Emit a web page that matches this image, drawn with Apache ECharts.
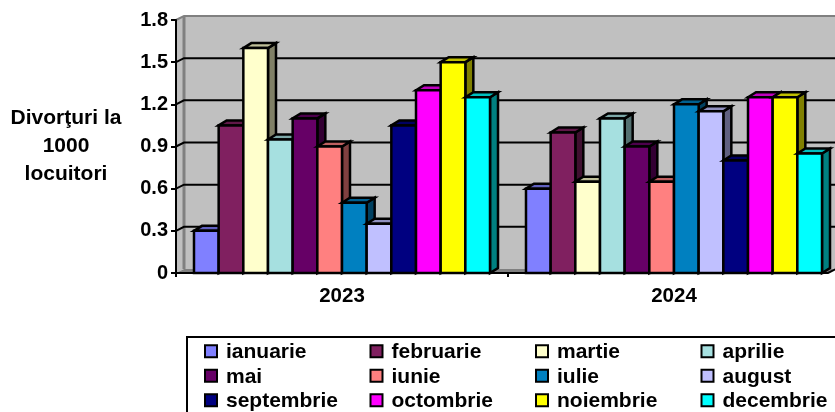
<!DOCTYPE html>
<html>
<head>
<meta charset="utf-8">
<title>Divorturi</title>
<style>
html,body{margin:0;padding:0;background:#fff;overflow:hidden}
#chart{width:835px;height:412px}
</style>
<script src="https://cdn.jsdelivr.net/npm/echarts@6/dist/echarts.min.js"></script>
</head>
<body>
<div id="chart"></div>
<script>
var years = ['2023', '2024'];
var months = ['ianuarie', 'februarie', 'martie', 'aprilie', 'mai', 'iunie', 'iulie', 'august', 'septembrie', 'octombrie', 'noiembrie', 'decembrie'];
var values2023 = [0.3, 1.05, 1.6, 0.95, 1.1, 0.9, 0.5, 0.35, 1.05, 1.3, 1.5, 1.25];
var values2024 = [0.6, 1.0, 0.65, 1.1, 0.9, 0.65, 1.2, 1.15, 0.8, 1.25, 1.25, 0.85];
var colors = ['#8080ff', '#802060', '#ffffcc', '#a6e0e0', '#660066', '#ff8080', '#0080c0', '#c0c0ff', '#000080', '#ff00ff', '#ffff00', '#00ffff'];
var yTicks = [0, 0.3, 0.6, 0.9, 1.2, 1.5, 1.8];

var DX = 8, DY = 4;   // adancimea peretelui
var BX = 8, BY = 5;   // adancimea barelor
var AXIS_CUT = 12;    // axa x se termina inainte de marginea grilei

function shade(hex, k) {
    var n = parseInt(hex.slice(1), 16);
    var r = Math.round((n >> 16 & 255) * k), g = Math.round((n >> 8 & 255) * k), b = Math.round((n & 255) * k);
    return 'rgb(' + r + ',' + g + ',' + b + ')';
}

function poly(points, fill, stroke, lw) {
    return {
        type: 'polygon',
        shape: {points: points},
        style: {fill: fill, stroke: stroke || null, lineWidth: lw || 0, lineJoin: 'miter'}
    };
}

// peretele din spate, podeaua si liniile de grila
function renderWall(params, api) {
    var y = api.coord([0, api.value(0)])[1];
    var cs = params.coordSys;
    var x0 = cs.x, x1 = cs.x + cs.width;
    var xEnd = x1 - AXIS_CUT;
    var items = [];
    if (params.dataIndex === 0) {
        var top = cs.y;
        items.push(poly([[x0, y], [x0 + DX, y - DY], [x0 + DX, top - DY], [x0, top]], '#c0c0c0'));
        items.push(poly([[x0 + DX, y - DY], [x1, y - DY], [x1, top - DY], [x0 + DX, top - DY]], '#c0c0c0'));
        items.push(poly([[x0, y], [x0 + DX, y - DY], [x1, y - DY], [xEnd + DX, y - DY], [xEnd, y]], '#808080'));
        items.push({type: 'polyline', shape: {points: [[x0, top], [x0 + DX, top - DY], [x1, top - DY]]}, style: {fill: null, stroke: '#808080', lineWidth: 2}});
        items.push({type: 'line', shape: {x1: x0 + DX, y1: top - DY, x2: x0 + DX, y2: y - DY}, style: {stroke: '#808080', lineWidth: 3}});
        // axa x, desenata aici ca sa se opreasca la xEnd
        items.push({type: 'polyline', shape: {points: [[x0, y], [xEnd, y], [xEnd + DX, y - DY]]}, style: {fill: null, stroke: '#000', lineWidth: 2}});
    } else if (api.value(0) < 1.8) {
        items.push({type: 'polyline', shape: {points: [[x0, y], [x0 + DX, y - DY], [x1, y - DY]]}, style: {fill: null, stroke: '#000', lineWidth: 2}});
    }
    return {type: 'group', children: items};
}

function barRenderer(idx) {
    return function (params, api) {
        var pt = api.coord([api.value(0), api.value(1)]);
        var base = api.coord([api.value(0), 0]);
        var w = api.size([1, 0])[0] * 0.8916 / months.length;
        var x = pt[0] + (idx - (months.length - 1) / 2) * w - w / 2;
        var y = pt[1], b = base[1], c = colors[idx];
        return {
            type: 'group',
            children: [
                poly([[x + w, y], [x + w + BX, y - BY], [x + w + BX, b - BY], [x + w, b]], shade(c, 0.5), '#000', 2.5),
                poly([[x, y], [x + BX, y - BY], [x + w + BX, y - BY], [x + w, y]], shade(c, 0.75), '#000', 2.5),
                poly([[x, y], [x + w, y], [x + w, b], [x, b]], c, '#000', 2.5)
            ]
        };
    };
}

var seriesList = [{
    type: 'custom',
    name: 'perete',
    silent: true,
    z: 1,
    clip: false,
    renderItem: renderWall,
    encode: {y: 0},
    data: yTicks.map(function (t) { return [t]; })
}];

months.forEach(function (m, i) {
    seriesList.push({
        type: 'custom',
        name: m,
        z: 2,
        clip: false,
        itemStyle: {color: colors[i]},
        renderItem: barRenderer(i),
        encode: {x: 0, y: 1},
        data: [[0, values2023[i]], [1, values2024[i]]]
    });
});

var option = {
    animation: false,
    textStyle: {fontFamily: '"Liberation Sans", Arial, sans-serif'},
    grid: {left: 176, top: 20, width: 664, height: 253, outerBoundsMode: 'none'},
    xAxis: {
        type: 'category',
        data: years,
        boundaryGap: true,
        z: 5,
        axisLine: {show: false},
        axisTick: {show: true, length: 4, lineStyle: {color: '#000', width: 2}},
        axisLabel: {color: '#000', fontWeight: 'bold', fontSize: 20.5, margin: 13}
    },
    yAxis: {
        type: 'value',
        min: 0,
        max: 1.8,
        interval: 0.3,
        z: 5,
        name: 'Divorţuri la\n1000\nlocuitori',
        nameLocation: 'middle',
        nameRotate: 0,
        nameGap: 110,
        nameTextStyle: {color: '#000', fontWeight: 'bold', fontSize: 21, lineHeight: 28, align: 'center', verticalAlign: 'middle', padding: [0, 0, 8, 0]},
        splitLine: {show: false},
        axisLine: {show: true, lineStyle: {color: '#000', width: 2}},
        axisTick: {show: true, length: 5, lineStyle: {color: '#000', width: 2}},
        axisLabel: {
            color: '#000', fontWeight: 'bold', fontSize: 20, margin: 8,
            formatter: function (v) { return v === 0 ? '0' : v.toFixed(1); }
        }
    },
    graphic: [{
        type: 'rect',
        shape: {x: 187, y: 337, width: 700, height: 120},
        style: {fill: '#fff', stroke: '#000', lineWidth: 2},
        z: 0
    }],
    legend: {
        left: 204,
        top: 339,
        width: 670,
        padding: 0,
        orient: 'horizontal',
        align: 'left',
        itemWidth: 12,
        itemHeight: 12,
        itemGap: 0,
        selectedMode: false,
        icon: 'rect',
        itemStyle: {borderColor: '#000', borderWidth: 2},
        data: months,
        formatter: function (n) { return '{n|' + n + '}'; },
        textStyle: {
            rich: {n: {width: 143.5, padding: [2, 0, 0, 4], height: 22.5, lineHeight: 22.5, color: '#000', fontWeight: 'bold', fontSize: 21, fontFamily: '"Liberation Sans", Arial, sans-serif'}}
        }
    },
    series: seriesList
};

var my_chart = echarts.init(document.getElementById('chart'), null, {renderer: 'canvas'});
my_chart.setOption(option);
</script>
</body>
</html>
